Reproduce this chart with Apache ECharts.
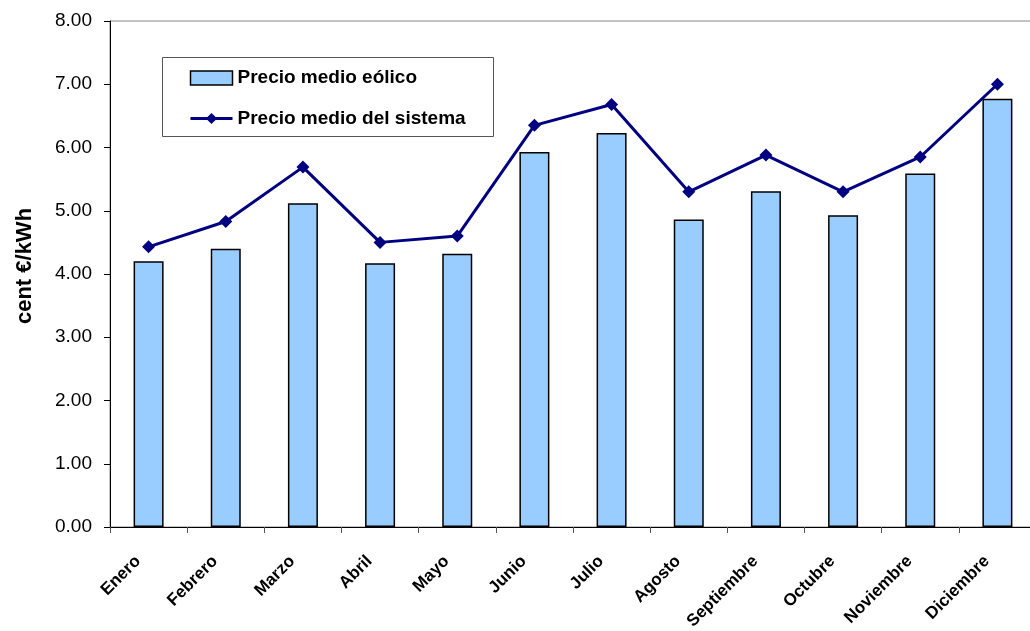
<!DOCTYPE html>
<html>
<head>
<meta charset="utf-8">
<script src="https://cdn.jsdelivr.net/npm/echarts@6/dist/echarts.min.js"></script>
<style>html,body{margin:0;padding:0;background:#fff;overflow:hidden}#c{width:1036px;height:631px}</style>
</head>
<body>
<div id="c"></div>
<script>
const months = ['Enero','Febrero','Marzo','Abril','Mayo','Junio','Julio','Agosto','Septiembre','Octubre','Noviembre','Diciembre'];
const precioEolico = [4.20, 4.40, 5.12, 4.17, 4.32, 5.93, 6.23, 4.86, 5.31, 4.93, 5.59, 6.77];
const precioSistema = [4.43, 4.83, 5.69, 4.50, 4.60, 6.35, 6.68, 5.30, 5.88, 5.30, 5.85, 7.00];
const yTicks = {min: 0, max: 8, interval: 1};
const seriesNames = ['Precio medio eólico', 'Precio medio del sistema'];
const yTitle = 'cent €/kWh';

const chart = echarts.init(document.getElementById('c'), null, {renderer: 'canvas'});
const font = 'Liberation Sans, Arial, sans-serif';
chart.setOption({
  animation: false,
  backgroundColor: '#fff',
  textStyle: {fontFamily: font},
  grid: {left: 110, top: 21, right: 0, bottom: 104, show: true, borderColor: '#888', borderWidth: 1,
         containLabel: false, outerBoundsMode: 'none'},
  graphic: [{
    type: 'rect', shape: {x: 162.5, y: 57.5, width: 331, height: 79},
    style: {fill: '#fff', stroke: '#555', lineWidth: 1}, z: 5
  }],
  legend: {
    orient: 'vertical', left: 184, top: 63.5, itemWidth: 42, itemHeight: 14, itemGap: 21.5,
    textStyle: {fontFamily: font, fontWeight: 'bold', fontSize: 19, color: '#000', lineHeight: 14},
    data: [
      {name: seriesNames[0], icon: 'rect', itemStyle: {color: '#99CCFF', borderColor: '#000', borderWidth: 1.5}},
      {name: seriesNames[1], lineStyle: {color: '#000080', width: 3}}
    ],
    z: 10
  },
  xAxis: {
    type: 'category', data: months, boundaryGap: true,
    axisLine: {lineStyle: {color: '#000', width: 1}},
    axisTick: {show: true, interval: 0, length: 6, lineStyle: {color: '#555'}},
    axisLabel: {interval: 0, rotate: 45, fontSize: 17, fontWeight: 'bold', color: '#000', fontFamily: font,
                margin: 21, padding: [0, 15, 0, 0]}
  },
  yAxis: {
    type: 'value', min: yTicks.min, max: yTicks.max, interval: yTicks.interval,
    name: yTitle, nameLocation: 'middle', nameGap: 74, nameRotate: 90,
    nameTextStyle: {fontSize: 22, fontWeight: 'bold', color: '#000', fontFamily: font, padding: [0, 0, 0, 16]},
    axisLine: {show: true, lineStyle: {color: '#000', width: 1}},
    axisTick: {show: true, length: 6, lineStyle: {color: '#000'}},
    splitLine: {show: false},
    axisLabel: {fontSize: 19, color: '#000', fontFamily: font, margin: 18, formatter: v => v.toFixed(2)}
  },
  series: [
    {
      name: seriesNames[0], type: 'bar', data: precioEolico, barWidth: 30,
      itemStyle: {color: '#99CCFF', borderColor: '#000', borderWidth: 1.5}
    },
    {
      name: seriesNames[1], type: 'line', data: precioSistema,
      symbol: 'diamond', symbolSize: 13,
      lineStyle: {color: '#000080', width: 3},
      itemStyle: {color: '#000080'}, z: 3
    }
  ]
});
</script>
</body>
</html>
